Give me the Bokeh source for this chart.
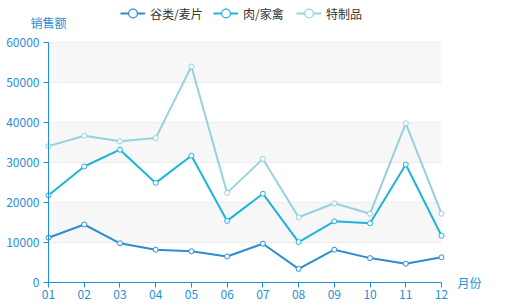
import numpy as np
from bokeh.plotting import figure
from bokeh.models import (ColumnDataSource, Range1d, FixedTicker, Legend, LegendItem, Label,
                          LinearAxis, Grid)
from bokeh.embed import file_html
from bokeh.resources import INLINE

months = ["01", "02", "03", "04", "05", "06", "07", "08", "09", "10", "11", "12"]
series_names = ["谷类/麦片", "肉/家禽", "特制品"]
cereal = [11200, 14500, 9800, 8200, 7800, 6500, 9700, 3400, 8200, 6100, 4700, 6300]
meat = [10600, 14500, 23400, 16700, 23900, 8900, 12500, 6700, 7100, 8700, 24800, 5400]
special = [12300, 7700, 2100, 11200, 22300, 7000, 8700, 6200, 4500, 2400, 10300, 5500]
y_ticks = [0, 10000, 20000, 30000, 40000, 50000, 60000]
y_title = "销售额"
x_title = "月份"

colors = ["#2a8ed0", "#1db4dc", "#97d1df"]
axis_color = "#1f8fd6"
FONT = "Noto Sans CJK SC"

W, H = 505, 305
# plot area in canvas pixels
L, R, T, B = 48, 441, 42, 282
legend_x = [120, 213, 296]

x = list(range(1, len(months) + 1))
stack1 = np.array(cereal)
stack2 = stack1 + np.array(meat)
stack3 = stack2 + np.array(special)

x0, x1 = x[0], x[-1]
y0, y1 = y_ticks[0], y_ticks[-1]
xs = (x1 - x0) / (R - L)
ys = (y1 - y0) / (B - T)
xr = Range1d(x0 - L * xs, x1 + (W - R) * xs)
yr = Range1d(y0 - (H - B) * ys, y1 + T * ys)

p = figure(width=W, height=H, output_backend="svg", toolbar_location=None,
           x_range=xr, y_range=yr, x_axis_type=None, y_axis_type=None, min_border=0)
p.outline_line_color = None
p.background_fill_color = "white"
p.border_fill_color = "white"

# alternating split areas (every second band between y ticks)
band_bottom = y_ticks[1:-1:2]
band_top = y_ticks[2::2]
p.quad(left=x0, right=x1, bottom=band_bottom, top=band_top,
       fill_color="#f7f7f7", line_color=None, level="underlay")

grid = Grid(dimension=1, ticker=FixedTicker(ticks=y_ticks), bounds=(y0, y1),
            cross_bounds=(x0, x1), grid_line_color="#ececec", grid_line_width=1,
            band_fill_color=None)
p.add_layout(grid)

xaxis = LinearAxis(fixed_location=y0, bounds=(x0, x1), ticker=FixedTicker(ticks=x),
                   major_label_overrides={i: m for i, m in zip(x, months)})
yaxis = LinearAxis(fixed_location=x0, bounds=(y0, y1), ticker=FixedTicker(ticks=y_ticks),
                   major_label_overrides={t: str(t) for t in y_ticks})
for ax in (xaxis, yaxis):
    ax.axis_line_color = axis_color
    ax.axis_line_width = 1
    ax.major_tick_line_color = axis_color
    ax.major_tick_out = 5
    ax.major_tick_in = 0
    ax.minor_tick_line_color = None
    ax.major_label_text_color = axis_color
    ax.major_label_text_font = FONT
    ax.major_label_text_font_size = "12px"
xaxis.major_label_standoff = 2
yaxis.major_label_standoff = 4
p.add_layout(xaxis, "below")
p.add_layout(yaxis, "left")

nan = float("nan")
for name, yv, c, lx in zip(series_names, [stack1, stack2, stack3], colors, legend_x):
    src = ColumnDataSource(dict(x=x, y=list(yv)))
    ln = p.line("x", "y", source=src, line_color=c, line_width=2)
    p.scatter("x", "y", source=src, size=5, fill_color="white", line_color=c, line_width=1)
    proxy = p.scatter(x=[nan], y=[nan], size=10, fill_color="white", line_color=c, line_width=1.2)
    leg = Legend(items=[LegendItem(label=name, renderers=[ln, proxy])],
                 orientation="horizontal", location=(lx, H - 24),
                 label_text_font=FONT, label_text_font_size="12px", label_text_color="#333333",
                 glyph_width=25, glyph_height=22, label_standoff=5, spacing=0,
                 padding=0, margin=0, border_line_color=None, background_fill_alpha=0)
    p.add_layout(leg, "center")

p.add_layout(Label(x=x0, y=y1, y_offset=20, text=y_title, text_align="center",
                   text_baseline="middle", text_color=axis_color, text_font=FONT,
                   text_font_size="12px"))
p.add_layout(Label(x=x1, y=y0, x_offset=16, text=x_title, text_align="left",
                   text_baseline="middle", text_color=axis_color, text_font=FONT,
                   text_font_size="12px"))

open("out.html", "w").write(file_html(p, INLINE))
